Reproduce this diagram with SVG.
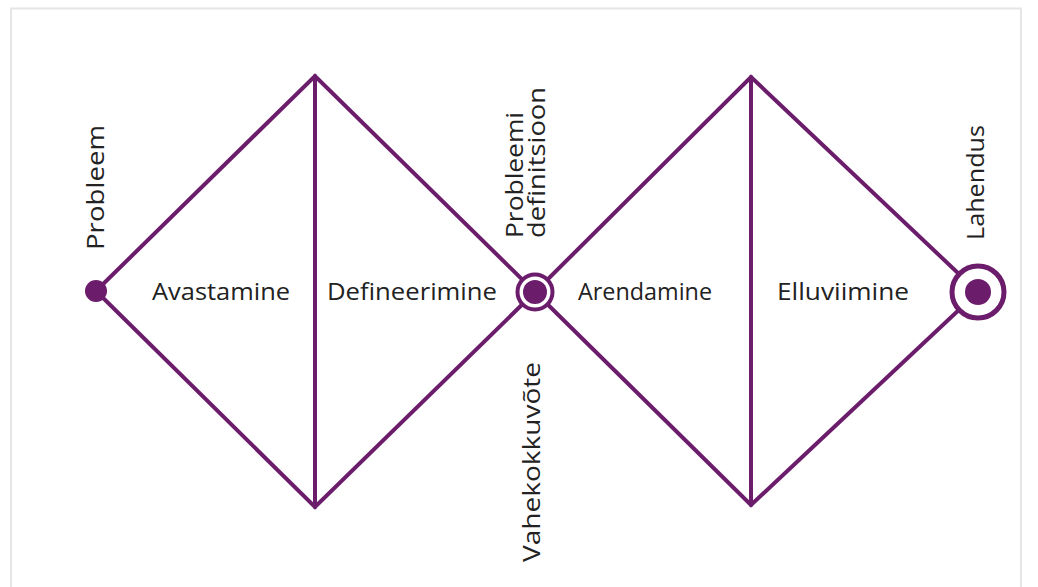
<svg xmlns="http://www.w3.org/2000/svg" width="1038" height="587" viewBox="0 0 1038 587">
<style>
.ln{fill:none;stroke:#6b1d6c;stroke-width:4;stroke-linejoin:miter;stroke-linecap:round}
.dot{fill:#6b1d6c}
.ring{fill:#fff;stroke:#6b1d6c}
.t{font-family:"Open Sans","Noto Sans",sans-serif;font-size:23px;fill:#222}
</style>
<rect x="0" y="0" width="1038" height="587" fill="#fff"/>
<rect x="11" y="8.5" width="1010" height="600" fill="none" stroke="#e6e6e6" stroke-width="2"/>
<g id="connectors">
<path class="ln" d="M96,291 L315,76 L535,292 L315,507 Z"/>
<line class="ln" x1="315" y1="76" x2="315" y2="507"/>
<path class="ln" d="M535,292 L751,77 L978,292 L751,505 Z"/>
<line class="ln" x1="751" y1="77" x2="751" y2="505"/>
</g>
<g id="probleem">
<circle class="dot" cx="96" cy="291" r="11"/>
<text class="t" transform="translate(104,250) rotate(-90)" textLength="125" lengthAdjust="spacingAndGlyphs">Probleem</text>
</g>
<g id="avastamine"><text class="t" x="152" y="300" textLength="138" lengthAdjust="spacingAndGlyphs">Avastamine</text></g>
<g id="defineerimine"><text class="t" x="327" y="300" textLength="170" lengthAdjust="spacingAndGlyphs">Defineerimine</text></g>
<g id="probleemi-definitsioon">
<circle class="ring" cx="535" cy="292" r="17.5" stroke-width="4"/>
<circle class="dot" cx="535" cy="292" r="12"/>
<text class="t" transform="translate(523,238) rotate(-90)" textLength="126" lengthAdjust="spacingAndGlyphs">Probleemi</text>
<text class="t" transform="translate(545,238) rotate(-90)" textLength="151" lengthAdjust="spacingAndGlyphs">definitsioon</text>
<text class="t" transform="translate(540,562) rotate(-90)" textLength="200" lengthAdjust="spacingAndGlyphs">Vahekokkuvõte</text>
</g>
<g id="arendamine"><text class="t" x="578" y="300" textLength="134" lengthAdjust="spacingAndGlyphs">Arendamine</text></g>
<g id="elluviimine"><text class="t" x="777" y="300" textLength="132" lengthAdjust="spacingAndGlyphs">Elluviimine</text></g>
<g id="lahendus">
<circle class="ring" cx="978" cy="292" r="26" stroke-width="5"/>
<circle class="dot" cx="978" cy="292" r="13"/>
<text class="t" transform="translate(984,240) rotate(-90)" textLength="115" lengthAdjust="spacingAndGlyphs">Lahendus</text>
</g>
</svg>
